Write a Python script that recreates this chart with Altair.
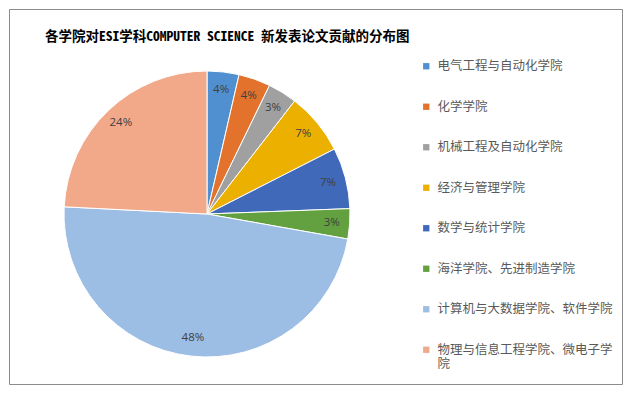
import altair as alt
import pandas as pd

categories = [
    "电气工程与自动化学院",
    "化学学院",
    "机械工程及自动化学院",
    "经济与管理学院",
    "数学与统计学院",
    "海洋学院、先进制造学院",
    "计算机与大数据学院、软件学院",
    "物理与信息工程学院、微电子学院",
]
shares = [3.6, 3.6, 3.3, 7.0, 6.9, 3.4, 48.0, 24.2]
colors = ["#5090D0", "#E2722C", "#A0A0A0", "#EBB000", "#4169BA", "#62A040", "#9CBDE4", "#F2A98A"]
title_text = "各学院对ESI学科COMPUTER SCIENCE 新发表论文贡献的分布图"

df = pd.DataFrame({"cat": categories, "share": shares, "order": list(range(len(categories)))})
df["label"] = df["share"].round(0).astype(int).astype(str) + "%"

W, H = 613, 375
CX, CY, R = 198, 205, 143

base = alt.Chart(df).encode(
    theta=alt.Theta("share:Q", stack=True),
    order=alt.Order("order:Q", sort="ascending"),
)

arcs = base.mark_arc(outerRadius=R, stroke="white", strokeWidth=1).encode(
    x=alt.value(CX),
    y=alt.value(CY),
    color=alt.Color(
        "cat:N",
        scale=alt.Scale(domain=categories, range=colors),
        sort=categories,
        legend=alt.Legend(
            title=None,
            orient="none",
            legendX=411,
            legendY=51,
            symbolType="square",
            symbolSize=40,
            symbolStrokeWidth=0,
            labelFont="Noto Sans CJK SC",
            labelFontSize=12.5,
            labelColor="#595959",
            labelLimit=300,
            labelOffset=5,
            rowPadding=27.5,
            labelExpr="datum.label == '物理与信息工程学院、微电子学院' ? ['物理与信息工程学院、微电子学', '院'] : datum.label",
        ),
    ),
)

texts = base.mark_text(
    radius=125, font="Open Sans", fontSize=11.5, color="#404040"
).encode(
    x=alt.value(CX),
    y=alt.value(CY),
    text="label:N",
)

title = alt.Chart(pd.DataFrame({"t": [title_text]})).mark_text(
    align="left",
    baseline="middle",
    font="Noto Sans Mono CJK SC, Noto Sans CJK SC",
    fontSize=13.5,
    fontWeight="bold",
    color="#000000",
).encode(x=alt.value(36), y=alt.value(28), text="t:N")

chart = (
    alt.layer(arcs, texts, title)
    .properties(
        width=W,
        height=H,
        padding={"left": 1, "top": 1, "right": 2, "bottom": 2},
        autosize=alt.AutoSizeParams(type="none"),
    )
    .configure_view(stroke="#8C8C8C", strokeWidth=1)
)

chart.save("out.html", embed_options={"renderer": "svg", "actions": False})
